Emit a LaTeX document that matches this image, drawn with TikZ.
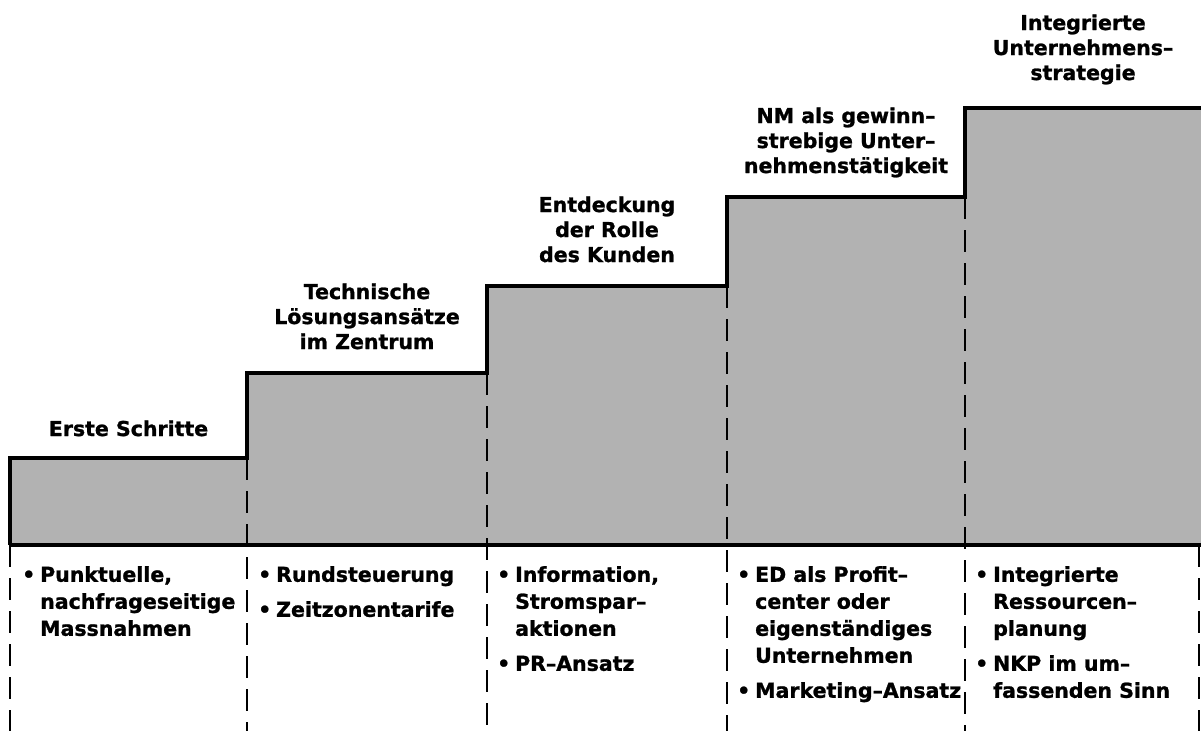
\documentclass[tikz,border=0pt]{standalone}
\usepackage{fontspec}
\setmainfont{DejaVu Sans}[BoldFeatures={FakeBold=1.2}]
\usepackage{tikz}
\usetikzlibrary{positioning}
\newcommand{\stepw}{4pt}
\newcommand{\dashw}{2.5pt}
\newcommand{\bul}{\makebox[18pt][l]{\textbullet}}
\newcommand{\ind}{\hspace*{18pt}}

\begin{document}
\begin{tikzpicture}[x=1pt,y=-1pt]
    \tikzset{stepfill/.style = {fill=black!30, draw=none},
             stepline/.style = {line width=\stepw, line join=miter},
             sepline/.style = {line width=\dashw, dash pattern=on 22pt off 11pt},
             head/.style = {font=\fontsize{20.5}{25}\selectfont\bfseries, align=center, inner sep=0pt, anchor=base},
             items/.style = {font=\fontsize{20.5}{27}\selectfont\bfseries, align=left, inner sep=0pt, anchor=north west}}
    \useasboundingbox (0,0) rectangle (1201,731);
    \coordinate (s0) at (10,545);
    \coordinate (t1) at (10,458);
    \coordinate (t2) at (247,458);
    \coordinate (u2) at (247,373);
    \coordinate (t3) at (487,373);
    \coordinate (u3) at (487,286);
    \coordinate (t4) at (727,286);
    \coordinate (u4) at (727,197);
    \coordinate (t5) at (965,197);
    \coordinate (u5) at (965,108);
    \coordinate (t6) at (1201,108);
    \coordinate (s6) at (1201,545);
    \fill[stepfill] (s0) -- (t1) -- (t2) -- (u2) -- (t3) -- (u3) -- (t4) -- (u4) -- (t5) -- (u5) -- (t6) -- (s6) -- cycle;
    \foreach \x/\y in {10/545, 247/458, 487/373, 727/286, 965/197, 1199/545}
        \draw[sepline] (\x,\y) -- (\x,731);
    \draw[stepline] (s0) -- (t1) -- (t2) -- (u2) -- (t3) -- (u3) -- (t4) -- (u4) -- (t5) -- (u5) -- (t6);
    \draw[stepline] (s0) -- (s6);

    \node[head] (h1) at (128.5,436) {Erste Schritte};
    \node[head] (h2) at (367,349) {Technische\\Lösungsansätze\\im Zentrum};
    \node[head] (h3) at (607,262) {Entdeckung\\der Rolle\\des Kunden};
    \node[head] (h4) at (846,173) {NM als gewinn--\\strebige Unter--\\nehmenstätigkeit};
    \node[head] (h5) at (1083,80) {Integrierte\\Unternehmens--\\strategie};

    \node[items] (b1) at (22,566) {\bul Punktuelle,\\\ind nachfrageseitige\\\ind Massnahmen};
    \node[items] (b2) at (258,566) {\bul Rundsteuerung\\[8pt]\bul Zeitzonentarife};
    \node[items] (b3) at (497,566) {\bul Information,\\\ind Stromspar--\\\ind aktionen\\[8pt]\bul PR--Ansatz};
    \node[items] (b4) at (737,566) {\bul ED als Profit--\\\ind center oder\\\ind eigenständiges\\\ind Unternehmen\\[8pt]\bul Marketing--Ansatz};
    \node[items] (b5) at (975,566) {\bul Integrierte\\\ind Ressourcen--\\\ind planung\\[8pt]\bul NKP im um--\\\ind fassenden Sinn};
\end{tikzpicture}
\end{document}
